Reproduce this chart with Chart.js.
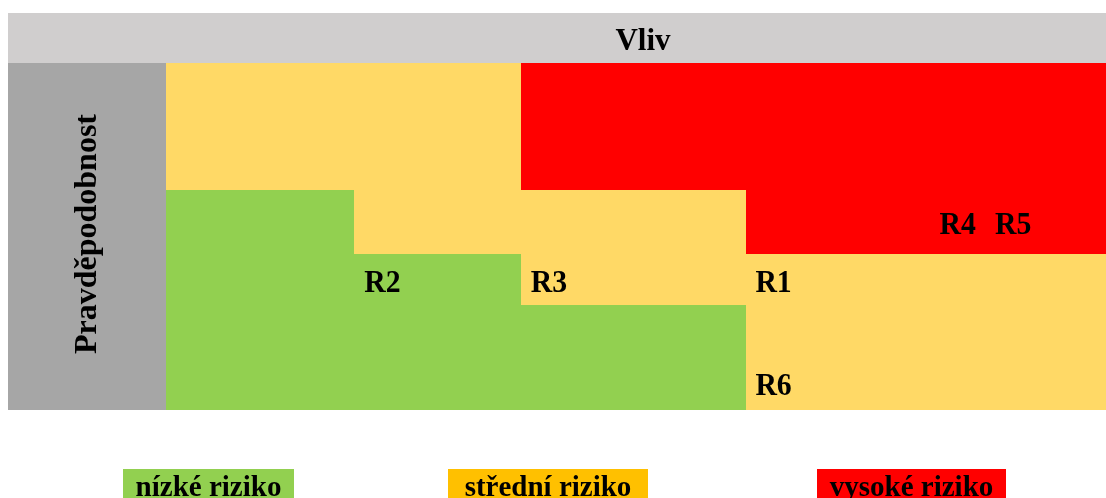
<!DOCTYPE html>
<html lang="cs">
<head>
<meta charset="utf-8">
<title>Matice rizik</title>
<script src="https://cdn.jsdelivr.net/npm/chart.js@4/dist/chart.umd.min.js"></script>
<style>
  html,body{margin:0;padding:0;background:#fff;overflow:hidden;}
  #wrap{position:relative;width:1106px;height:498px;}
</style>
</head>
<body>
<div id="wrap"><canvas id="c"></canvas></div>
<script>
/* ── Data ─────────────────────────────────────────────────── */
// hranice sloupců (vliv) a řádků (pravděpodobnost) v % šířky/výšky tabulky
const impactEdges = [0, 20.0, 37.8, 61.7, 100];
const probEdges   = [100, 63.4, 45.0, 30.3, 0];   // shora dolů

// úroveň rizika v každé buňce, řádky shora dolů: L / M / H
const levelRows = [
  ["M", "M", "H", "H"],
  ["L", "M", "M", "H"],
  ["L", "L", "M", "M"],
  ["L", "L", "L", "M"],
];

const riskNames  = ["R1", "R2", "R3", "R4", "R5", "R6"];
const riskImpact = [62.7, 21.1, 38.8, 82.3, 88.2, 62.7];
const riskProb   = [34.0, 34.0, 34.0, 50.7, 50.7, 4.3];

const legendLevels = ["L", "M", "H"];
const legendLabels = ["nízké riziko", "střední riziko", "vysoké riziko"];

const xTitle = "Vliv";
const yTitle = "Pravděpodobnost";

/* ── Styles ───────────────────────────────────────────────── */
const CELL_COL   = { L: "#92D050", M: "#FFD966", H: "#FF0000" };
const LEGEND_COL = { L: "#92D050", M: "#FFC000", H: "#FF0000" };
const SERIF = "'Liberation Serif','Times New Roman',serif";

// text mírně zúžený (jako v předloze)
function narrowText(ctx, txt, x, y, sx) {
  ctx.save();
  ctx.translate(x, y);
  ctx.scale(sx, 1);
  ctx.fillText(txt, 0, 0);
  ctx.restore();
}

const matrixPlugin = {
  id: "matrix",
  beforeDatasetsDraw(chart) {
    const { ctx, chartArea: a, scales: { x, y } } = chart;
    ctx.save();

    // hlavička "Vliv"
    ctx.fillStyle = "#D0CECE";
    ctx.fillRect(8, a.top - 50, a.right - 8, 50);
    // levý sloupec "Pravděpodobnost"
    ctx.fillStyle = "#A6A6A6";
    ctx.fillRect(8, a.top, a.left - 8, a.bottom - a.top);

    // buňky
    levelRows.forEach((row, r) => {
      const y0 = Math.round(y.getPixelForValue(probEdges[r]));
      const y1 = Math.round(y.getPixelForValue(probEdges[r + 1]));
      row.forEach((lvl, c) => {
        const x0 = Math.round(x.getPixelForValue(impactEdges[c]));
        const x1 = Math.round(x.getPixelForValue(impactEdges[c + 1]));
        ctx.fillStyle = CELL_COL[lvl];
        ctx.fillRect(x0, y0, x1 - x0, y1 - y0);
      });
    });

    // titulky
    ctx.fillStyle = "#000";
    ctx.textAlign = "center";
    ctx.textBaseline = "alphabetic";
    ctx.font = "bold 31px " + SERIF;
    ctx.fillText(xTitle, 643, a.top - 13);

    ctx.save();
    ctx.translate(88, 234);
    ctx.rotate(-Math.PI / 2);
    ctx.textBaseline = "middle";
    ctx.font = "bold 32px " + SERIF;
    ctx.fillText(yTitle, 0, 0);
    ctx.restore();

    // legenda
    const boxes = [[123, 171], [448, 200], [817, 189]];
    legendLevels.forEach((lvl, i) => {
      const [bx, bw] = boxes[i];
      ctx.fillStyle = LEGEND_COL[lvl];
      ctx.fillRect(bx, 469, bw, 40);
      ctx.fillStyle = "#000";
      ctx.font = "bold 29px " + SERIF;
      ctx.fillText(legendLabels[i], bx + bw / 2, 496);
    });
    ctx.restore();
  },
  afterDatasetsDraw(chart) {
    const { ctx } = chart;
    const meta = chart.getDatasetMeta(0);
    ctx.save();
    ctx.fillStyle = "#000";
    ctx.font = "bold 32px " + SERIF;
    ctx.textAlign = "left";
    ctx.textBaseline = "alphabetic";
    meta.data.forEach((pt, i) => narrowText(ctx, riskNames[i], pt.x, pt.y, 0.93));
    ctx.restore();
  },
};

/* ── Chart ────────────────────────────────────────────────── */
new Chart(document.getElementById("c"), {
  type: "scatter",
  data: {
    datasets: [{
      data: riskImpact.map((v, i) => ({ x: v, y: riskProb[i] })),
      pointRadius: 0,
      pointHoverRadius: 0,
    }],
  },
  options: {
    responsive: true,
    maintainAspectRatio: false,
    animation: false,
    events: [],
    layout: { padding: { left: 166, top: 63, right: 0, bottom: 88 } },
    plugins: { legend: { display: false }, tooltip: { enabled: false } },
    scales: {
      x: { type: "linear", min: 0, max: 100, display: false },
      y: { type: "linear", min: 0, max: 100, display: false },
    },
  },
  plugins: [matrixPlugin],
});
</script>
</body>
</html>
